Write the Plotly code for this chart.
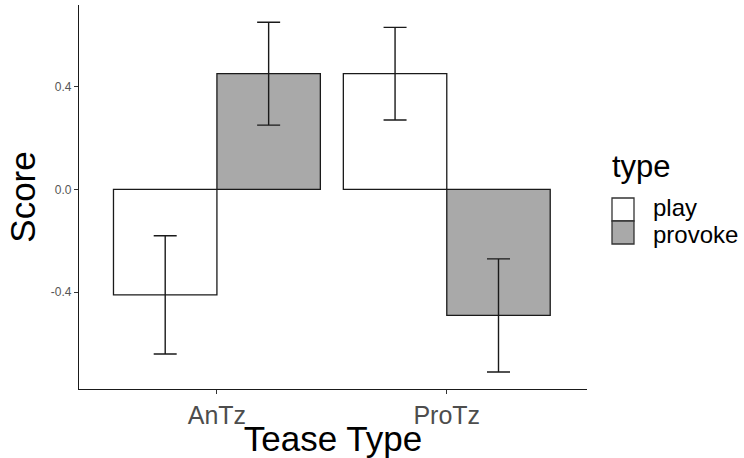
import plotly.graph_objects as go

categories = ["AnTz", "ProTz"]
series_names = ["play", "provoke"]
play_mean = [-0.41, 0.45]
play_se = [0.23, 0.18]
provoke_mean = [0.45, -0.49]
provoke_se = [0.20, 0.22]
y_tick_vals = [-0.4, 0.0, 0.4]
y_tick_text = ["-0.4", "0.0", "0.4"]

colors = {"play": "#ffffff", "provoke": "#a9a9a9"}
FONT = "Liberation Sans, Arial, sans-serif"

W, H = 744, 458
ML, MR, MT, MB = 79, 157, 5, 69
PW, PH = W - ML - MR, H - MT - MB

fig = go.Figure()
for name, mean, se in [("play", play_mean, play_se), ("provoke", provoke_mean, provoke_se)]:
    fig.add_trace(go.Bar(
        x=categories, y=mean, name=name,
        marker=dict(color=colors[name], line=dict(color="#1a1a1a", width=1.3)),
        error_y=dict(type="data", array=se, visible=True, color="#1a1a1a",
                     thickness=1.4, width=11.5),
        showlegend=False,
    ))

fig.update_layout(
    width=W, height=H,
    margin=dict(l=ML, r=MR, t=MT, b=MB),
    barmode="group", bargap=0.1, bargroupgap=0,
    plot_bgcolor="white", paper_bgcolor="white",
    font=dict(family=FONT),
    xaxis=dict(
        range=[-0.6, 1.61], showline=True, linecolor="#1a1a1a", linewidth=1.2,
        ticks="outside", ticklen=4, tickcolor="#333333",
        tickfont=dict(size=25, color="#4d4d4d"),
        title=dict(text="Tease Type", font=dict(size=35, color="#000000"), standoff=0),
        showgrid=False, zeroline=False,
    ),
    yaxis=dict(
        range=[-0.776, 0.717], showline=True, linecolor="#1a1a1a", linewidth=1.2,
        ticks="outside", ticklen=4, tickcolor="#333333",
        tickvals=y_tick_vals, ticktext=y_tick_text,
        tickfont=dict(size=12, color="#555555"),
        title=dict(text="Score", font=dict(size=35, color="#000000"), standoff=4),
        showgrid=False, zeroline=False,
    ),
)

# Legend drawn with pixel positions converted to paper coordinates
def px(x):
    return (x - ML) / PW
def py(y):
    return (H - MB - y) / PH

fig.add_annotation(xref="paper", yref="paper", x=px(610), y=py(166), text="type",
                   showarrow=False, xanchor="left", yanchor="middle",
                   font=dict(size=31, color="#000000", family=FONT))
key_tops = [198, 221]
label_mids = [208, 234]
for name, top, mid in zip(series_names, key_tops, label_mids):
    fig.add_shape(type="rect", xref="paper", yref="paper",
                  x0=px(612), x1=px(634), y0=py(top), y1=py(top + 23),
                  fillcolor=colors[name], line=dict(color="#333333", width=1.3))
    fig.add_annotation(xref="paper", yref="paper", x=px(651), y=py(mid), text=name,
                       showarrow=False, xanchor="left", yanchor="middle",
                       font=dict(size=24, color="#000000", family=FONT))

fig.write_html("out.html", config={"displayModeBar": False},
               post_script="document.body.style.margin='0';")
